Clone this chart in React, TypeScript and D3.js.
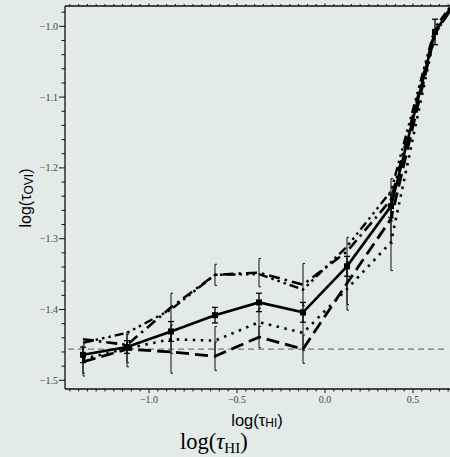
import React, { useEffect, useRef } from 'react';
import * as d3 from 'd3';

const W = 450;
const H = 457;

const xCenters = [-1.375, -1.125, -0.875, -0.625, -0.375, -0.125, 0.125, 0.375, 0.625, 0.875];

const solidVals = [-1.464, -1.453, -1.431, -1.408, -1.390, -1.404, -1.339, -1.254, -1.008, -0.916];
const solidErr = [0.011, 0.009, 0.014, 0.011, 0.013, 0.014, 0.014, 0.016, 0.018, 0.02];

const dashDotVals = [-1.442, -1.450, -1.397, -1.351, -1.348, -1.365, -1.318, -1.245, -1.006, -0.916];
const dashDotErr = [0, 0, 0.02, 0.015, 0.02, 0.03, 0.02, 0.03, 0, 0];

const longDashVals = [-1.474, -1.456, -1.460, -1.466, -1.439, -1.456, -1.363, -1.272, -1.010, -0.916];
const longDashErr = [0.02, 0.025, 0.03, 0.02, 0.015, 0.02, 0.03, 0.035, 0, 0];

const dottedVals = [-1.470, -1.455, -1.442, -1.444, -1.418, -1.433, -1.371, -1.305, -1.010, -0.916];
const dottedErr = [0.02, 0.02, 0.02, 0.02, 0.02, 0.025, 0.03, 0.04, 0, 0];

const dashDot3Vals = [-1.447, -1.433, -1.400, -1.351, -1.350, -1.372, -1.311, -1.233, -1.002, -0.916];

const refLevel = -1.456;
const refRange = [-1.46, 0.68];

const xMajor = [-1.0, -0.5, 0.0, 0.5];
const yMajor = [-1.0, -1.1, -1.2, -1.3, -1.4, -1.5];

export default function App() {
  const ref = useRef<SVGSVGElement>(null);

  useEffect(() => {
    document.body.style.margin = '0';
    const svg = d3.select(ref.current);
    svg.selectAll('*').remove();

    const left = 65, right = 450, top = 6, bottom = 389;
    const x = d3.scaleLinear().domain([-1, 0.5]).range([149, 413]);
    const y = d3.scaleLinear().domain([-1.0, -1.5]).range([26.3, 380.3]);

    svg.append('rect').attr('width', W).attr('height', H).attr('fill', '#e2ebe8');

    const defs = svg.append('defs');
    defs.append('clipPath').attr('id', 'plotclip')
      .append('rect').attr('x', left).attr('y', top).attr('width', right - left).attr('height', bottom - top);

    const plot = svg.append('g').attr('clip-path', 'url(#plotclip)');

    plot.append('line')
      .attr('x1', x(refRange[0])).attr('x2', x(refRange[1]))
      .attr('y1', y(refLevel)).attr('y2', y(refLevel))
      .attr('stroke', '#777').attr('stroke-width', 1.4).attr('stroke-dasharray', '6,4');

    const line = d3.line<number>().x((_, i) => x(xCenters[i])).y(d => y(d));

    const series = [
      { vals: dottedVals, err: dottedErr, dash: '2.5,5.5', w: 2.6 },
      { vals: longDashVals, err: longDashErr, dash: '13,6', w: 2.8 },
      { vals: dashDot3Vals, err: null, dash: '9,4,2.5,4,2.5,4,2.5,4', w: 2.4 },
      { vals: dashDotVals, err: dashDotErr, dash: '11,5,2.5,5', w: 2.6 },
    ];

    series.forEach(s => {
      if (s.err) {
        s.vals.forEach((v, i) => {
          const e = s.err![i];
          if (!e) return;
          const cx = x(xCenters[i]);
          plot.append('line').attr('x1', cx).attr('x2', cx)
            .attr('y1', y(v - e)).attr('y2', y(v + e))
            .attr('stroke', '#111').attr('stroke-width', 1);
          [v - e, v + e].forEach(t => plot.append('line')
            .attr('x1', cx).attr('x2', cx + 2)
            .attr('y1', y(t)).attr('y2', y(t))
            .attr('stroke', '#111').attr('stroke-width', 1));
        });
      }
      plot.append('path').attr('d', line(s.vals))
        .attr('fill', 'none').attr('stroke', '#000')
        .attr('stroke-width', s.w).attr('stroke-dasharray', s.dash);
    });

    solidVals.forEach((v, i) => {
      const cx = x(xCenters[i]);
      const e = solidErr[i];
      plot.append('line').attr('x1', cx).attr('x2', cx)
        .attr('y1', y(v - e)).attr('y2', y(v + e))
        .attr('stroke', '#000').attr('stroke-width', 1.3);
      [v - e, v + e].forEach(t => plot.append('line')
        .attr('x1', cx - 3).attr('x2', cx + 3)
        .attr('y1', y(t)).attr('y2', y(t))
        .attr('stroke', '#000').attr('stroke-width', 1.3));
    });
    plot.append('path').attr('d', line(solidVals))
      .attr('fill', 'none').attr('stroke', '#000').attr('stroke-width', 2.6);
    plot.selectAll('rect.mk').data(solidVals).enter().append('rect')
      .attr('x', (_, i) => x(xCenters[i]) - 3).attr('y', d => y(d) - 3)
      .attr('width', 6).attr('height', 6).attr('fill', '#000');

    const axisColor = '#111';
    svg.append('line').attr('x1', left).attr('x2', left).attr('y1', top).attr('y2', bottom)
      .attr('stroke', axisColor).attr('stroke-width', 1.3);
    svg.append('line').attr('x1', left).attr('x2', right).attr('y1', bottom).attr('y2', bottom)
      .attr('stroke', axisColor).attr('stroke-width', 1.3);
    svg.append('line').attr('x1', left).attr('x2', right).attr('y1', top).attr('y2', top)
      .attr('stroke', axisColor).attr('stroke-width', 1.3);

    const xMinor = d3.range(-1.45, 0.72, 0.05);
    xMinor.forEach(t => {
      const isMajor = xMajor.some(m => Math.abs(m - t) < 1e-6);
      const px = x(t);
      if (px < left + 1 || px > right) return;
      svg.append('line').attr('x1', px).attr('x2', px)
        .attr('y1', bottom).attr('y2', bottom + (isMajor ? 4 : 2.5))
        .attr('stroke', axisColor).attr('stroke-width', 1);
      svg.append('line').attr('x1', px).attr('x2', px)
        .attr('y1', top).attr('y2', top - (isMajor ? 2.5 : 2))
        .attr('stroke', axisColor).attr('stroke-width', 1);
    });
    const yMinor = d3.range(-1.5, -0.97, 0.02);
    yMinor.forEach(t => {
      const isMajor = yMajor.some(m => Math.abs(m - t) < 1e-6);
      const py = y(t);
      svg.append('line').attr('x1', left).attr('x2', left - (isMajor ? 6 : 3.5))
        .attr('y1', py).attr('y2', py)
        .attr('stroke', axisColor).attr('stroke-width', 1);
    });

    const fmt = (v: number) => (v < 0 ? '\u2212' : '') + Math.abs(v).toFixed(1);
    xMajor.forEach(t => {
      svg.append('text').attr('x', x(t)).attr('y', 403)
        .attr('text-anchor', 'middle').attr('font-family', 'Liberation Serif, serif')
        .attr('font-size', 10).attr('fill', '#444').text(fmt(t));
    });
    yMajor.forEach(t => {
      svg.append('text').attr('x', 58).attr('y', y(t) + 3.5)
        .attr('text-anchor', 'end').attr('font-family', 'Liberation Serif, serif')
        .attr('font-size', 10).attr('fill', '#444').text(fmt(t));
    });

    const yl = svg.append('text')
      .attr('transform', 'translate(31,198) rotate(-90)')
      .attr('text-anchor', 'middle').attr('font-family', 'Liberation Sans, Arial, sans-serif')
      .attr('font-size', 16).attr('fill', '#000');
    yl.append('tspan').text('log(\u03c4');
    yl.append('tspan').attr('font-size', 12).attr('dy', 1.5).text('OVI');
    yl.append('tspan').attr('dy', -1.5).text(')');

    const xl = svg.append('text')
      .attr('x', 257).attr('y', 425.5)
      .attr('text-anchor', 'middle').attr('font-family', 'Liberation Sans, Arial, sans-serif')
      .attr('font-size', 16.5).attr('fill', '#000');
    xl.append('tspan').text('log(\u03c4');
    xl.append('tspan').attr('font-size', 12).attr('dy', 1.5).text('HI');
    xl.append('tspan').attr('dy', -1.5).text(')');

    const xl2 = svg.append('text')
      .attr('x', 180).attr('y', 449)
      .attr('font-family', 'Liberation Serif, serif')
      .attr('font-size', 22.5).attr('fill', '#000');
    xl2.append('tspan').text('log(');
    xl2.append('tspan').attr('font-style', 'italic').text('\u03c4');
    xl2.append('tspan').attr('font-size', 15).attr('dy', 4).text('HI');
    xl2.append('tspan').attr('dy', -4).text(')');
  }, []);

  return <svg ref={ref} width={W} height={H} style={{ position: 'absolute', left: 0, top: 0, display: 'block' }} />;
}
